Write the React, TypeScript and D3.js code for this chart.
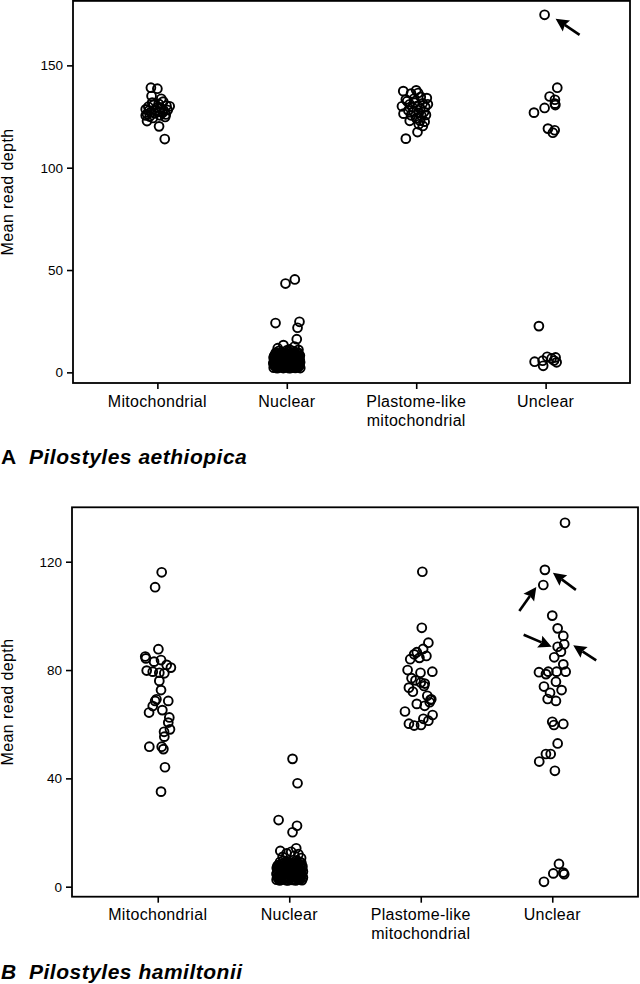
import React, { useEffect, useRef } from "react";
import * as d3 from "d3";

const FONT = "'Liberation Sans', Arial, Helvetica, sans-serif";

const categories = ["Mitochondrial", "Nuclear", "Plastome-like mitochondrial", "Unclear"];
const categoryLines = [["Mitochondrial"], ["Nuclear"], ["Plastome-like", "mitochondrial"], ["Unclear"]];

const ticksA = [0, 50, 100, 150];
const ticksB = [0, 40, 80, 120];

// points are [jitter (share of category step), mean read depth]
const mitoA = [
  [-0.05, 139.1], [0.0, 138.6], [-0.045, 135.0], [0.03, 133.7], [0.095, 130.0], [-0.08, 122.8], [0.013, 120.2], [0.057, 114.0],
  [-0.09, 128.5], [-0.07, 129.8], [-0.05, 127.2], [-0.03, 130.6], [-0.01, 128.0], [0.01, 131.2], [0.03, 129.0], [0.05, 127.8],
  [0.07, 130.3], [-0.08, 126.2], [-0.06, 125.0], [-0.02, 126.5], [0.02, 125.6], [0.04, 126.9], [0.06, 124.8], [-0.04, 131.8],
  [0.0, 129.5], [0.08, 128.2], [-0.09, 125.5], [0.045, 132.3], [-0.035, 124.3], [0.015, 127.4], [0.065, 126.0], [-0.065, 127.9],
];

const nuclearA = [
  [-0.01, 43.4], [0.062, 45.4], [-0.087, 24.1], [0.098, 24.7], [0.083, 21.8], [0.077, 16.2], [-0.026, 13.3], [0.06, 12.6],
  [-0.07, 11.8], [0.02, 11.2], [0.09, 11.0],
  [-0.101, 2.3], [-0.074, 2.0], [-0.052, 2.6], [-0.027, 2.1], [-0.004, 2.4], [0.019, 2.0], [0.043, 2.7], [0.066, 2.2], [0.088, 2.5], [0.104, 2.1],
  [-0.092, 3.4], [-0.066, 3.1], [-0.041, 3.6], [-0.016, 3.2], [0.008, 3.5], [0.031, 3.0], [0.055, 3.7], [0.079, 3.3], [0.099, 3.6],
  [-0.104, 4.6], [-0.079, 4.3], [-0.055, 4.8], [-0.03, 4.4], [-0.006, 4.9], [0.017, 4.5], [0.041, 4.2], [0.064, 4.7], [0.087, 4.4], [0.103, 4.9],
  [-0.09, 5.9], [-0.064, 5.6], [-0.039, 6.1], [-0.015, 5.7], [0.01, 6.0], [0.034, 5.5], [0.057, 6.2], [0.081, 5.8], [0.1, 6.1],
  [-0.102, 7.1], [-0.077, 6.8], [-0.051, 7.3], [-0.028, 6.9], [-0.003, 7.4], [0.021, 7.0], [0.046, 6.7], [0.07, 7.2], [0.093, 6.9],
  [-0.094, 8.4], [-0.068, 8.1], [-0.042, 8.6], [-0.018, 8.2], [0.006, 8.7], [0.03, 8.3], [0.053, 8.0], [0.077, 8.5], [0.101, 8.2],
  [-0.085, 9.6], [-0.058, 9.3], [-0.033, 9.8], [-0.008, 9.4], [0.015, 9.9], [0.039, 9.5], [0.062, 9.2], [0.086, 9.7],
  [-0.06, 10.5], [0.0, 10.7], [0.05, 10.4], [-0.1, 3.9], [0.095, 3.0], [-0.02, 5.2], [0.045, 5.1], [-0.085, 6.5], [0.075, 6.4],
  [-0.045, 7.8], [0.055, 7.7], [-0.088, 2.9], [-0.063, 4.0], [-0.036, 5.3], [-0.011, 6.4], [0.014, 7.8], [0.038, 9.0],
  [0.06, 3.3], [0.084, 5.3], [0.026, 4.0], [-0.049, 8.9], [-0.078, 7.9], [0.094, 7.7], [0.002, 3.0], [-0.023, 8.9],
  [-0.097, 5.3], [-0.071, 5.1], [-0.046, 4.1], [-0.021, 3.9], [0.004, 5.4], [0.028, 6.3], [0.051, 5.6], [0.072, 4.0],
  [0.091, 6.6], [-0.082, 9.0], [-0.056, 6.7], [-0.032, 7.6], [-0.008, 8.0], [0.018, 9.1], [0.044, 7.6], [0.066, 8.8],
  [0.089, 9.0], [-0.098, 7.9], [-0.06, 2.4], [-0.014, 2.7], [0.031, 2.2], [0.077, 2.8], [0.048, 4.4], [-0.027, 6.2],
];

const plastomeA = [
  [-0.1, 137.4], [-0.04, 136.2], [0.0, 137.8], [0.015, 136.5], [0.082, 134.0], [-0.11, 130.0], [-0.098, 126.4], [0.01, 117.4],
  [0.051, 120.4], [-0.08, 114.2],
  [-0.07, 132.5], [-0.05, 131.0], [-0.03, 129.5], [-0.01, 131.8], [0.01, 130.2], [0.03, 128.8], [0.05, 131.5], [0.07, 129.6],
  [-0.06, 128.0], [-0.02, 127.4], [0.02, 126.8], [0.04, 125.4], [0.06, 127.2], [-0.04, 125.6], [0.0, 124.2], [0.03, 123.0],
  [-0.08, 133.3], [0.09, 131.0], [-0.015, 133.8], [0.035, 134.6], [0.075, 125.8], [-0.05, 122.9], [0.065, 122.5], [0.02, 121.2],
];

const unclearA = [
  [-0.008, 174.7], [0.09, 139.1], [0.031, 134.8], [0.072, 133.2], [0.072, 131.3], [0.075, 130.6], [-0.008, 129.2], [-0.09, 126.9],
  [0.018, 119.1], [0.07, 118.3], [0.056, 117.1], [-0.052, 22.6], [-0.085, 5.2], [-0.019, 3.2], [0.012, 7.6], [0.077, 7.3],
  [0.085, 4.9], [-0.023, 5.7], [0.046, 6.8], [0.065, 5.8],
];

const mitoB = [
  [0.03, 116.1], [-0.02, 110.6], [0.005, 87.7], [-0.09, 84.3], [-0.095, 85.0], [-0.028, 83.1], [0.025, 83.7], [0.1, 80.9],
  [0.068, 81.9], [-0.084, 79.8], [-0.038, 79.4], [0.012, 79.0], [0.05, 78.8], [0.012, 76.0], [0.025, 72.6], [-0.02, 68.6],
  [-0.01, 69.2], [0.08, 68.6], [-0.066, 64.3], [0.035, 65.2], [0.088, 62.5], [-0.038, 66.7], [0.08, 60.6], [0.093, 58.1],
  [0.048, 57.2], [0.05, 55.4], [-0.064, 51.7], [0.03, 51.7], [0.043, 50.8], [0.055, 44.1], [0.025, 35.1],
];

const nuclearB = [
  [0.025, 47.2], [0.063, 38.2], [-0.081, 24.6], [0.059, 22.5], [0.025, 20.1], [-0.068, 13.2], [0.015, 12.9], [0.053, 14.2],
  [0.07, 12.0], [0.04, 11.4], [-0.02, 12.3], [-0.05, 11.0], [0.09, 10.6],
  [-0.096, 2.6], [-0.072, 2.3], [-0.047, 2.8], [-0.023, 2.4], [0.001, 2.9], [0.025, 2.5], [0.049, 2.3], [0.073, 2.8], [0.097, 2.4],
  [-0.085, 3.6], [-0.06, 3.3], [-0.035, 3.8], [-0.011, 3.4], [0.013, 3.9], [0.037, 3.5], [0.061, 3.2], [0.085, 3.7], [0.104, 3.4],
  [-0.097, 4.7], [-0.073, 4.4], [-0.048, 4.9], [-0.024, 4.5], [0.0, 4.8], [0.024, 4.4], [0.048, 4.9], [0.072, 4.6], [0.096, 4.3],
  [-0.086, 5.8], [-0.061, 5.5], [-0.036, 6.0], [-0.012, 5.6], [0.012, 6.1], [0.036, 5.7], [0.06, 5.4], [0.084, 5.9], [0.104, 5.6],
  [-0.095, 6.9], [-0.07, 6.6], [-0.046, 7.1], [-0.022, 6.7], [0.002, 7.2], [0.026, 6.8], [0.05, 6.5], [0.074, 7.0], [0.098, 6.7],
  [-0.083, 8.0], [-0.058, 7.7], [-0.034, 8.2], [-0.01, 7.8], [0.014, 8.3], [0.038, 7.9], [0.062, 7.6], [0.086, 8.1],
  [-0.07, 9.1], [-0.02, 9.3], [0.03, 9.0], [0.08, 9.2], [-0.045, 9.6], [0.055, 9.7],
  [-0.084, 3.0], [-0.059, 4.1], [-0.033, 5.2], [-0.008, 6.3], [0.018, 7.5], [0.043, 8.6], [0.067, 3.0], [0.09, 5.1],
  [-0.09, 7.6], [0.03, 4.1], [-0.015, 8.7], [0.078, 6.2],
  [-0.092, 5.2], [-0.066, 6.1], [-0.041, 4.3], [-0.017, 3.0], [0.006, 5.3], [0.03, 6.3], [0.054, 4.1], [0.079, 4.0],
  [0.1, 7.5], [-0.076, 7.3], [-0.052, 6.4], [-0.028, 7.6], [0.008, 8.6], [0.046, 7.3], [0.068, 8.5], [0.092, 8.8],
  [-0.063, 2.6], [-0.01, 2.3], [0.036, 2.9], [0.085, 2.7], [0.062, 5.9], [-0.04, 8.8],
];

const plastomeB = [
  [0.012, 116.3], [0.008, 95.6], [0.058, 90.1], [0.018, 87.8], [-0.03, 86.6], [-0.05, 85.8], [0.043, 85.2], [-0.08, 84.0],
  [-0.01, 84.5], [-0.1, 80.0], [-0.002, 79.0], [0.088, 79.4], [-0.07, 77.0], [-0.04, 76.2], [0.0, 75.4], [0.03, 75.0],
  [-0.09, 73.5], [0.025, 74.1], [-0.06, 72.0], [0.05, 70.5], [0.08, 69.2], [0.074, 69.0], [0.068, 68.1], [-0.03, 67.5],
  [0.03, 66.8], [-0.12, 64.7], [0.09, 63.4], [0.058, 61.3], [0.002, 59.7], [-0.05, 59.5], [-0.09, 60.2], [0.02, 62.0],
];

const unclearB = [
  [0.097, 134.4], [-0.056, 117.0], [-0.068, 111.4], [0.0, 100.1], [0.041, 95.4], [0.084, 92.6], [0.091, 89.5], [0.041, 88.6],
  [0.066, 86.8], [0.015, 84.7], [0.084, 82.1], [0.102, 79.4], [0.033, 79.4], [-0.101, 79.2], [-0.048, 78.5], [-0.03, 79.4],
  [0.028, 75.7], [-0.063, 73.9], [0.071, 72.6], [-0.017, 71.6], [-0.035, 69.3], [0.028, 68.6], [0.0, 60.9], [0.013, 59.7],
  [0.084, 60.1], [0.041, 52.9], [-0.048, 49.0], [-0.012, 49.0], [-0.099, 46.2], [0.02, 42.8], [0.051, 8.4], [0.008, 4.9],
  [0.084, 5.2], [0.091, 4.6], [-0.063, 1.8],
];

// arrows point at a given circle: tip offset from the circle and tail offset from the tip (px)
const arrowsA = [
  { cat: "Unclear", jitter: -0.008, value: 174.7, tip: [11, 4], tail: [24, 16] },
];
const arrowsB = [
  { cat: "Unclear", jitter: -0.056, value: 117.0, tip: [8, 3], tail: [23, 17] },
  { cat: "Unclear", jitter: -0.068, value: 111.4, tip: [-7, 2], tail: [-17, 24] },
  { cat: "Unclear", jitter: 0.041, value: 88.6, tip: [-6, 0], tail: [-28, -12] },
  { cat: "Unclear", jitter: 0.091, value: 89.5, tip: [9, 1], tail: [23, 15] },
];

function drawPanel(root, p) {
  const g = root.append("g");
  const x = d3.scalePoint().domain(categories).range([p.left, p.right]).padding(0.652);
  const step = x.step();
  const y = d3.scaleLinear().domain(p.yDomain).range([p.bottom, p.top]);

  // y axis ticks
  g.append("g")
    .attr("transform", `translate(${p.left},0)`)
    .call(d3.axisLeft(y).tickValues(p.ticks).tickSize(6).tickPadding(4).tickSizeOuter(0))
    .call((a) => a.select(".domain").remove())
    .call((a) => a.selectAll("line").attr("stroke", "#000").attr("stroke-width", 1.6))
    .call((a) => a.selectAll("text").attr("fill", "#000").attr("font-size", 13.5).attr("font-family", FONT));

  // x axis ticks
  g.append("g")
    .attr("transform", `translate(0,${p.bottom})`)
    .call(d3.axisBottom(x).tickSize(6).tickFormat(() => "").tickSizeOuter(0))
    .call((a) => a.select(".domain").remove())
    .call((a) => a.selectAll("line").attr("stroke", "#000").attr("stroke-width", 1.6));

  // category labels
  g.append("g")
    .selectAll("text")
    .data(categories)
    .join("text")
    .attr("x", (d) => x(d))
    .attr("y", p.bottom + 23.5)
    .attr("text-anchor", "middle")
    .attr("font-family", FONT)
    .attr("font-size", 16)
    .attr("letter-spacing", 0.3)
    .selectAll("tspan")
    .data((d, i) => categoryLines[i].map((t) => ({ t, c: d })))
    .join("tspan")
    .attr("x", (d) => x(d.c))
    .attr("dy", (d, i) => (i === 0 ? 0 : 19))
    .text((d) => d.t);

  // frame
  g.append("rect")
    .attr("x", p.left)
    .attr("y", p.top)
    .attr("width", p.right - p.left)
    .attr("height", p.bottom - p.top)
    .attr("fill", "none")
    .attr("stroke", "#000")
    .attr("stroke-width", 1.8);

  // points
  p.groups.forEach(([cat, data]) => {
    g.append("g")
      .selectAll("circle")
      .data(data)
      .join("circle")
      .attr("cx", (d) => x(cat) + d[0] * step)
      .attr("cy", (d) => y(d[1]))
      .attr("r", 4.4)
      .attr("fill", "none")
      .attr("stroke", "#000")
      .attr("stroke-width", 1.9);
  });

  // arrows
  p.arrows.forEach((a) => {
    const tx = x(a.cat) + a.jitter * step + a.tip[0];
    const ty = y(a.value) + a.tip[1];
    const sx = tx + a.tail[0];
    const sy = ty + a.tail[1];
    const len = Math.hypot(tx - sx, ty - sy);
    const ux = (tx - sx) / len;
    const uy = (ty - sy) / len;
    const bx = tx - ux * 13;
    const by = ty - uy * 13;
    g.append("line")
      .attr("x1", sx).attr("y1", sy).attr("x2", bx + ux * 2).attr("y2", by + uy * 2)
      .attr("stroke", "#000").attr("stroke-width", 2.6);
    g.append("path")
      .attr("d", `M${tx},${ty}L${bx - uy * 6.5},${by + ux * 6.5}L${bx + ux * 2},${by + uy * 2}L${bx + uy * 6.5},${by - ux * 6.5}Z`)
      .attr("fill", "#000");
  });

  // y axis title
  g.append("text")
    .attr("transform", `translate(13,${(p.top + p.bottom) / 2}) rotate(-90)`)
    .attr("text-anchor", "middle")
    .attr("font-family", FONT)
    .attr("font-size", 16)
    .attr("letter-spacing", 0.4)
    .text("Mean read depth");

  // panel label
  g.append("text")
    .attr("x", 1)
    .attr("y", p.labelY)
    .attr("font-family", FONT)
    .attr("font-size", 21)
    .attr("font-weight", "bold")
    .attr("font-style", p.letterItalic ? "italic" : "normal")
    .text(p.letter);
  g.append("text")
    .attr("x", 29)
    .attr("y", p.labelY)
    .attr("font-family", FONT)
    .attr("font-size", 21)
    .attr("font-weight", "bold")
    .attr("font-style", "italic")
    .attr("letter-spacing", 0.5)
    .text(p.species);
}

const App = () => {
  const svgRef = useRef(null);

  useEffect(() => {
    const svg = d3.select(svgRef.current);
    svg.selectAll("*").remove();

    drawPanel(svg, {
      left: 73, right: 630, top: 0.9, bottom: 383,
      yDomain: [-5.2, 181.5],
      ticks: ticksA,
      groups: [[categories[0], mitoA], [categories[1], nuclearA], [categories[2], plastomeA], [categories[3], unclearA]],
      arrows: arrowsA,
      letter: "A", letterItalic: false, species: "Pilostyles aethiopica", labelY: 464,
    });

    drawPanel(svg, {
      left: 72, right: 638, top: 507.3, bottom: 896.7,
      yDomain: [-3.7, 140.1],
      ticks: ticksB,
      groups: [[categories[0], mitoB], [categories[1], nuclearB], [categories[2], plastomeB], [categories[3], unclearB]],
      arrows: arrowsB,
      letter: "B", letterItalic: true, species: "Pilostyles hamiltonii", labelY: 979,
    });
  }, []);

  return (
    <svg
      ref={svgRef}
      width={640}
      height={984}
      style={{ position: "absolute", left: 0, top: 0, background: "#fff" }}
    ></svg>
  );
};

export default App;
